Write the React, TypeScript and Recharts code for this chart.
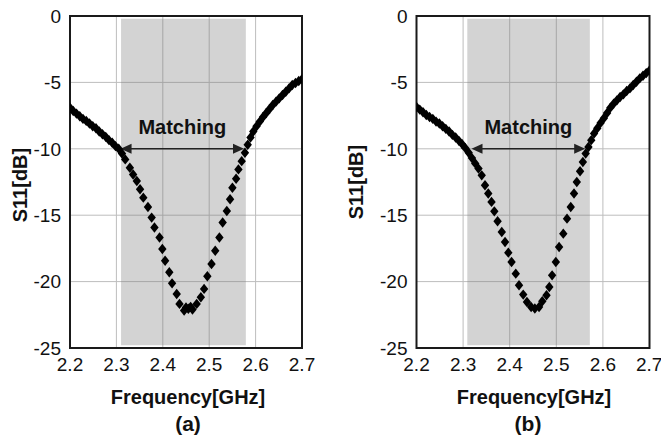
import React from 'react';
import {
    ScatterChart,
    Scatter,
    XAxis,
    YAxis,
    CartesianGrid,
    ReferenceArea,
    ReferenceLine
} from 'recharts';

// axis ticks (GHz / dB)
const FREQ_TICKS = [2.2, 2.3, 2.4, 2.5, 2.6, 2.7];
const S11_TICKS = [-25, -20, -15, -10, -5, 0];

// (a) measured S11
const FREQ_A = [
    2.200, 2.207, 2.214, 2.221, 2.228, 2.235, 2.242, 2.249, 2.256, 2.263,
    2.270, 2.277, 2.284, 2.291, 2.298, 2.305, 2.312, 2.319, 2.329, 2.336,
    2.344, 2.351, 2.358, 2.368, 2.376, 2.382, 2.393, 2.399, 2.405, 2.414,
    2.420, 2.430, 2.436, 2.446, 2.450, 2.455, 2.460, 2.464, 2.473, 2.482,
    2.489, 2.496, 2.505, 2.513, 2.522, 2.529, 2.538, 2.545, 2.550, 2.558,
    2.563, 2.570, 2.577, 2.583, 2.589, 2.595, 2.602, 2.609, 2.616, 2.623,
    2.630, 2.637, 2.644, 2.651, 2.658, 2.665, 2.672, 2.679, 2.686, 2.693,
    2.700
];
const S11_A = [
    -6.9, -7.15, -7.35, -7.55, -7.75, -7.9, -8.1, -8.3, -8.45, -8.7,
    -8.9, -9.1, -9.35, -9.55, -9.8, -10.0, -10.35, -10.8, -11.43, -11.93,
    -12.43, -13.05, -13.68, -14.38, -15.18, -15.93, -16.68, -17.55, -18.43, -19.3,
    -20.13, -20.93, -21.68, -22.18, -21.95, -22.05, -21.9, -22.1, -21.68, -21.18,
    -20.55, -19.6, -18.68, -17.68, -16.68, -15.55, -14.68, -13.8, -12.93, -12.25,
    -11.55, -10.93, -10.3, -9.7, -9.15, -8.7, -8.3, -7.95, -7.6, -7.3,
    -7.0, -6.7, -6.45, -6.2, -5.95, -5.7, -5.45, -5.2, -5.05, -4.9,
    -4.75
];

// (b) measured S11
const FREQ_B = [
    2.200, 2.207, 2.214, 2.221, 2.228, 2.235, 2.242, 2.249, 2.256, 2.263,
    2.270, 2.277, 2.284, 2.291, 2.298, 2.305, 2.312, 2.319, 2.326, 2.333,
    2.340, 2.347, 2.354, 2.361, 2.367, 2.374, 2.383, 2.390, 2.397, 2.404,
    2.413, 2.420, 2.429, 2.437, 2.446, 2.454, 2.463, 2.470, 2.479, 2.485,
    2.491, 2.499, 2.506, 2.515, 2.523, 2.531, 2.538, 2.544, 2.551, 2.557,
    2.563, 2.569, 2.575, 2.581, 2.588, 2.595, 2.602, 2.609, 2.616, 2.623,
    2.630, 2.637, 2.644, 2.651, 2.658, 2.665, 2.672, 2.679, 2.686, 2.693,
    2.700
];
const S11_B = [
    -6.85, -7.05, -7.25, -7.45, -7.6, -7.75, -7.95, -8.1, -8.3, -8.5,
    -8.7, -8.95, -9.15, -9.4, -9.65, -9.95, -10.3, -10.7, -11.1, -11.49,
    -12.0, -12.75, -13.37, -14.0, -14.71, -15.46, -16.27, -17.02, -17.82, -18.52,
    -19.4, -20.28, -20.98, -21.54, -21.91, -22.03, -21.91, -21.48, -21.03, -20.41,
    -19.53, -18.52, -17.39, -16.39, -15.26, -14.38, -13.37, -12.5, -11.69, -10.99,
    -10.36, -9.86, -9.35, -8.85, -8.45, -8.05, -7.7, -7.3, -6.9, -6.6,
    -6.35, -6.1, -5.9, -5.65, -5.45, -5.2, -4.95, -4.7, -4.5, -4.3,
    -4.1
];

// matching band [fLow, fHigh] and the -10 dB arrow ends
const BAND_A = [2.310, 2.579];
const BAND_B = [2.309, 2.572];
const BAND_S11 = [-24.8, -0.2];
const ARROW_A = [2.309, 2.575];
const ARROW_B = [2.318, 2.562];
const ARROW_LEVEL = -10;

const FONT = '"Liberation Sans", Arial, Helvetica, sans-serif';
const INK = '#111';

const Diamond = (props: any) => {
    const { cx, cy } = props;
    if (cx == null || cy == null) return null;
    return (
        <polygon
            points={`${cx},${cy - 5.2} ${cx + 4.2},${cy} ${cx},${cy + 5.2} ${cx - 4.2},${cy}`}
            fill="#000"
        />
    );
};

const Arrow = (props: any) => {
    const { x1, y1, x2 } = props;
    const a = Math.min(x1, x2);
    const b = Math.max(x1, x2);
    const y = y1;
    return (
        <g>
            <line x1={a + 6} y1={y} x2={b - 6} y2={y} stroke="#222" strokeWidth={1.6} />
            <polygon points={`${a},${y} ${a + 11},${y - 5} ${a + 11},${y + 5}`} fill="#222" />
            <polygon points={`${b},${y} ${b - 11},${y - 5} ${b - 11},${y + 5}`} fill="#222" />
        </g>
    );
};

const toPoints = (freq: number[], s11: number[]) => freq.map((f, i) => ({ f, s: s11[i] }));

interface PanelProps {
    freq: number[];
    s11: number[];
    band: number[];
    arrow: number[];
    width: number;
    margin: { top: number; right: number; bottom: number; left: number };
}

const Panel: React.FC<PanelProps> = ({ freq, s11, band, arrow, width, margin }) => {
    const data = toPoints(freq, s11);
    return (
        <ScatterChart width={width} height={380} margin={margin}>
            <CartesianGrid stroke="#bdbdbd" strokeWidth={1} />
            <XAxis
                type="number"
                dataKey="f"
                domain={[2.2, 2.7]}
                ticks={FREQ_TICKS}
                tickFormatter={(v: number) => v.toFixed(1)}
                axisLine={false}
                tickLine={false}
                tickSize={0}
                tickMargin={10}
                height={30}
                tick={{ fill: INK, fontSize: 19 }}
                allowDataOverflow
            />
            <YAxis
                type="number"
                dataKey="s"
                domain={[-25, 0]}
                ticks={S11_TICKS}
                axisLine={false}
                tickLine={false}
                tickSize={0}
                tickMargin={9}
                width={60}
                tick={{ fill: INK, fontSize: 19 }}
                allowDataOverflow
            />
            <ReferenceArea
                x1={band[0]}
                x2={band[1]}
                y1={BAND_S11[0]}
                y2={BAND_S11[1]}
                fill="#7a7a7a"
                fillOpacity={0.33}
                stroke="none"
            />
            <ReferenceLine
                segment={[{ x: arrow[0], y: ARROW_LEVEL }, { x: arrow[1], y: ARROW_LEVEL }]}
                shape={Arrow}
                label={{ value: 'Matching', position: 'top', offset: 15, fill: INK, fontSize: 20, fontWeight: 'bold' }}
            />
            <Scatter data={data} shape={Diamond} fill="#000" isAnimationActive={false} />
            <ReferenceArea x1={2.2} x2={2.7} y1={-25} y2={0} fill="none" fillOpacity={0} stroke="#1a1a1a" strokeWidth={2} />
        </ScatterChart>
    );
};

const titleStyle: React.CSSProperties = {
    position: 'absolute',
    whiteSpace: 'nowrap',
    lineHeight: '1',
    fontSize: 20,
    fontWeight: 'bold',
    color: INK
};

export default function App() {
    return (
        <div style={{ position: 'fixed', left: 0, top: 0, width: 663, height: 439, background: '#fff', overflow: 'hidden', fontFamily: FONT }}>
            {/* (a) */}
            <div style={{ position: 'absolute', left: 0, top: 0 }}>
                <Panel freq={FREQ_A} s11={S11_A} band={BAND_A} arrow={ARROW_A} width={320}
                    margin={{ top: 16, right: 18, bottom: 2, left: 10 }} />
            </div>
            <div style={{ ...titleStyle, left: 19.5, top: 184.5, transform: 'translate(-50%, -50%) rotate(-90deg)' }}>S11[dB]</div>
            <div style={{ ...titleStyle, left: 188, top: 387, transform: 'translateX(-50%)' }}>Frequency[GHz]</div>
            <div style={{ ...titleStyle, left: 188, top: 413, fontSize: 21, transform: 'translateX(-50%)' }}>(a)</div>

            {/* (b) */}
            <div style={{ position: 'absolute', left: 346, top: 0 }}>
                <Panel freq={FREQ_B} s11={S11_B} band={BAND_B} arrow={ARROW_B} width={315}
                    margin={{ top: 16, right: 11.5, bottom: 2, left: 10.5 }} />
            </div>
            <div style={{ ...titleStyle, left: 355.5, top: 182, transform: 'translate(-50%, -50%) rotate(-90deg)' }}>S11[dB]</div>
            <div style={{ ...titleStyle, left: 534, top: 387, transform: 'translateX(-50%)' }}>Frequency[GHz]</div>
            <div style={{ ...titleStyle, left: 528, top: 413, fontSize: 21, transform: 'translateX(-50%)' }}>(b)</div>
        </div>
    );
}
